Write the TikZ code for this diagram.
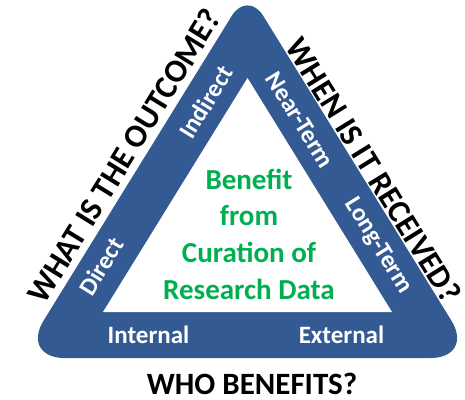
\documentclass[tikz,border=0pt]{standalone}
\usepackage{fontspec}
\setmainfont{Carlito}
\usetikzlibrary{calc}
\definecolor{bleu}{RGB}{52,90,148}
\definecolor{vert}{RGB}{0,176,80}

\begin{document}
\begin{tikzpicture}[x=1pt,y=-1pt]
% Styles
 \tikzstyle{anneau}=[fill=bleu]
 \tikzstyle{question}=[font=\fontsize{32.5}{36}\selectfont\bfseries,inner sep=0pt]
 \tikzstyle{axe}=[font=\fontsize{25}{28}\selectfont\bfseries,text=white,inner sep=0pt]
 \tikzstyle{titre}=[font=\fontsize{29}{36.7}\selectfont\bfseries,text=vert,align=center,inner sep=0pt]
 \useasboundingbox (0,0) rectangle (465,399);
% Sommets
 \coordinate (ol) at (20.5,358);
 \coordinate (or) at (474.5,358);
 \coordinate (ot) at (247.5,-9.6);
 \coordinate (il) at (103,312);
 \coordinate (ir) at (392,312);
 \coordinate (it) at (247.5,78);
% Triangle
 \fill[anneau] ($(or)!0.5!(ot)$) [rounded corners=30pt] -- (ot) -- ($(ot)!0.5!(ol)$)
      [rounded corners=44pt] -- (ol) -- (or) -- cycle;
 \fill[white] (il) -- (ir) -- (it) -- cycle;
% Centre
 \node[titre] (benefice) at (249,234) {Benefit\\from\\Curation of\\Research Data};
% Cotes
 \node[axe,rotate=58.4] (indirect) at (206,102) {Indirect};
 \node[axe,rotate=58.4] (direct) at (101,266) {Direct};
 \node[axe,rotate=-58.2] (proche) at (300,120) {Near-Term};
 \node[axe,rotate=-58.2] (long) at (378,246) {Long-Term};
 \node[axe,anchor=base] (interne) at (148.5,343) {Internal};
 \node[axe,anchor=base] (externe) at (341.5,343) {External};
% Questions
 \node[question,rotate=58.4] (quoi) at (124,156) {WHAT IS THE OUTCOME?};
 \node[question,rotate=-58.2] (quand) at (374,170) {WHEN IS IT RECEIVED?};
 \node[question,font=\fontsize{31}{36}\selectfont\bfseries,anchor=base] (qui) at (252,394) {WHO BENEFITS?};
\end{tikzpicture}
\end{document}
